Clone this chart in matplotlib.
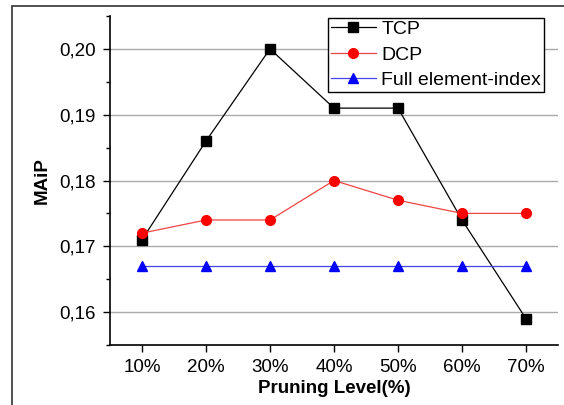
import matplotlib.pyplot as plt
from matplotlib.patches import Rectangle
from matplotlib.ticker import MultipleLocator, FuncFormatter

levels = ["10%", "20%", "30%", "40%", "50%", "60%", "70%"]
tcp = [0.171, 0.186, 0.200, 0.191, 0.191, 0.174, 0.159]
dcp = [0.172, 0.174, 0.174, 0.180, 0.177, 0.175, 0.175]
full_index = [0.167, 0.167, 0.167, 0.167, 0.167, 0.167, 0.167]

plt.rcParams["font.family"] = ["Liberation Sans", "DejaVu Sans"]

fig = plt.figure(figsize=(5.64, 4.05), dpi=100)
ax = fig.add_axes([110 / 564, 1 - 345 / 405, 448 / 564, 329 / 405])

# outer frame of the original figure
fig.patches.append(Rectangle((12 / 564, -0.1), 1.2, (405 - 6) / 405 + 0.1,
                             transform=fig.transFigure, fill=False,
                             edgecolor="#333333", linewidth=1.2))

x = list(range(1, len(levels) + 1))
ax.plot(x, tcp, "-", color="black", lw=0.9, marker="s", ms=6.5,
        mfc="black", mec="black", label="TCP", zorder=3)
ax.plot(x, dcp, "-", color="#ee4444", lw=0.9, marker="o", ms=7,
        mfc="red", mec="red", label="DCP", zorder=3)
ax.plot(x, full_index, "-", color="#4444ee", lw=0.9, marker="^", ms=7,
        mfc="blue", mec="blue", label="Full element-index", zorder=3)

ax.set_xlim(0.5, 7.5)
ax.set_ylim(0.155, 0.205)
ax.set_xticks(x)
ax.set_xticklabels(levels)
ax.yaxis.set_major_locator(MultipleLocator(0.01))
ax.yaxis.set_minor_locator(MultipleLocator(0.005))
ax.yaxis.set_major_formatter(FuncFormatter(lambda v, p: f"{v:.2f}".replace(".", ",")))
ax.tick_params(direction="out", labelsize=13.5, length=5, width=1, pad=5)
ax.tick_params(which="minor", direction="out", length=3, width=1)
ax.grid(axis="y", which="major", color="#aaaaaa", lw=1)
ax.set_axisbelow(True)
for side in ["top", "right"]:
    ax.spines[side].set_visible(False)
for side in ["left", "bottom"]:
    ax.spines[side].set_linewidth(1.2)

ax.set_xlabel("Pruning Level(%)", fontsize=13.5, fontweight="bold", labelpad=3)
ax.set_ylabel("MAiP", fontsize=13.5, fontweight="bold", labelpad=6)

leg = ax.legend(loc="upper right", bbox_to_anchor=(0.969, 0.995), fontsize=14,
                fancybox=False, framealpha=1, edgecolor="black",
                borderpad=0.15, labelspacing=0.4, handlelength=2.3,
                handletextpad=0.3, borderaxespad=0)
leg.get_frame().set_linewidth(1)

fig.savefig("out.png", dpi=100)
